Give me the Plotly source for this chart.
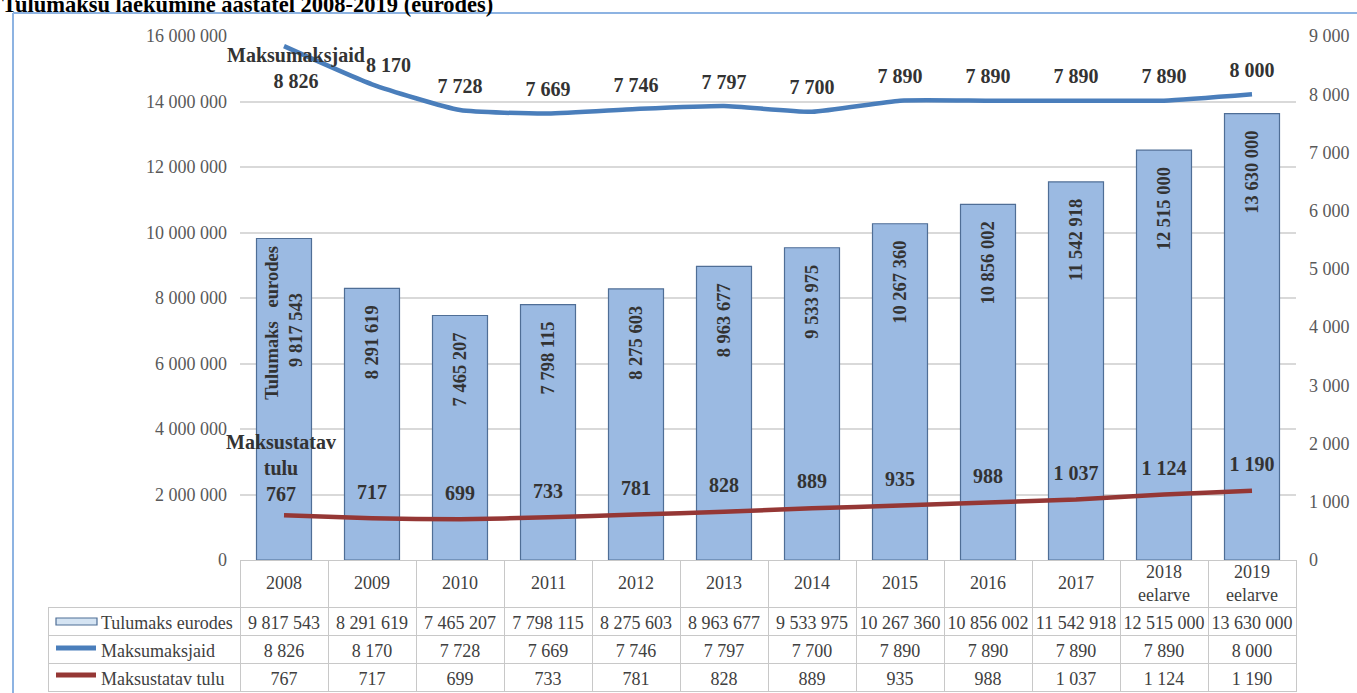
import plotly.graph_objects as go

W, H = 1357, 693

years = ["2008", "2009", "2010", "2011", "2012", "2013", "2014", "2015", "2016", "2017", "2018 eelarve", "2019 eelarve"]
year_labels = ["2008", "2009", "2010", "2011", "2012", "2013", "2014", "2015", "2016", "2017", "2018<br>eelarve", "2019<br>eelarve"]
tulumaks = [9817543, 8291619, 7465207, 7798115, 8275603, 8963677, 9533975, 10267360, 10856002, 11542918, 12515000, 13630000]
maksumaksjaid = [8826, 8170, 7728, 7669, 7746, 7797, 7700, 7890, 7890, 7890, 7890, 8000]
maksustatav_tulu = [767, 717, 699, 733, 781, 828, 889, 935, 988, 1037, 1124, 1190]

series_names = ["Tulumaks eurodes", "Maksumaksjaid", "Maksustatav tulu"]
title = "Tulumaksu laekumine aastatel 2008-2019 (eurodes)"

FONT = "Liberation Serif"
BAR_FILL = "#9BBAE2"
BAR_LINE = "#4F6E96"
BLUE = "#4A7EBB"
RED = "#953735"
TXT = "#333333"
GRAY = "#595959"
TBL = "#404040"
GRID_C = "#C8C8C8"
CLEAR = "rgba(0,0,0,0)"

NB = "\u00a0"


def fmt(v, sep=" "):
    return f"{v:,}".replace(",", sep)


def px_x(p):
    return p / W


def px_y(p):
    return 1 - p / H


bar_text = [fmt(v) + NB * 3 for v in tulumaks]
bar_text[0] = "Tulumaks" + NB * 3 + "eurodes" + NB + "<br>" + fmt(tulumaks[0]) + NB * 4

mm_text = [fmt(v) for v in maksumaksjaid]
mm_text[0] = ""
mm_text[1] = ""
mm_size = [2] + [18] * (len(years) - 1)

mt_text = [fmt(v) for v in maksustatav_tulu]
mt_text[0] = ""

LBL_FONT = dict(family=FONT, size=20, color=TXT, weight="bold")

fig = go.Figure()

fig.add_trace(go.Bar(
    x=years, y=tulumaks, name=series_names[0],
    marker=dict(color=BAR_FILL, line=dict(color=BAR_LINE, width=1.2)),
    text=bar_text, textposition="inside", insidetextanchor="end", textangle=-90,
    textfont=dict(family=FONT, size=18.5, color=TXT, weight="bold"),
    constraintext="none", cliponaxis=False, hoverinfo="skip",
    xaxis="x", yaxis="y",
))

fig.add_trace(go.Scatter(
    x=years, y=maksumaksjaid, name=series_names[1], mode="lines+markers+text",
    line=dict(color=BLUE, width=4.5, shape="spline", smoothing=0.5),
    marker=dict(size=mm_size, opacity=0, color=BLUE),
    text=mm_text, textposition="top center", textfont=LBL_FONT,
    cliponaxis=False, xaxis="x", yaxis="y2",
))

fig.add_trace(go.Scatter(
    x=years, y=maksustatav_tulu, name=series_names[2], mode="lines+markers+text",
    line=dict(color=RED, width=4.5, shape="spline", smoothing=0.5),
    marker=dict(size=22, opacity=0, color=RED),
    text=mt_text, textposition="top center", textfont=LBL_FONT,
    cliponaxis=False, xaxis="x", yaxis="y2",
))

# data table below the chart
LBL_PAD = NB * 10
header_vals = [[""] for _ in range(len(years) + 1)]
cell_vals = [[LBL_PAD + n.replace(" ", NB) for n in series_names]] + [
    [fmt(t, NB), fmt(m, NB), fmt(r, NB)] for t, m, r in zip(tulumaks, maksumaksjaid, maksustatav_tulu)
]
fig.add_trace(go.Table(
    domain=dict(x=[px_x(48), px_x(1296)], y=[0, px_y(560)]),
    columnwidth=[192] + [88] * len(years),
    header=dict(
        values=header_vals, height=47, align="center",
        fill=dict(color=[CLEAR] + ["white"] * len(years)),
        line=dict(color=[CLEAR] + [GRID_C] * len(years), width=1),
        font=dict(family=FONT, size=18, color=TBL),
    ),
    cells=dict(
        values=cell_vals, height=28, align=["left"] + ["center"] * len(years),
        fill=dict(color="white"),
        line=dict(color=GRID_C, width=1),
        font=dict(family=FONT, size=18, color=TBL),
    ),
))

y_dom = [px_y(560), px_y(36)]

annotations = [dict(
    text="<b>" + title + "</b>", x=0, y=px_y(4.5), xref="paper", yref="paper",
    xanchor="left", yanchor="middle", showarrow=False,
    font=dict(family=FONT, size=22.5, color="#000000"),
)]
for i, yl in enumerate(year_labels):
    annotations.append(dict(
        text=yl, x=i, xref="x", y=px_y(583), yref="paper",
        xanchor="center", yanchor="middle", showarrow=False,
        font=dict(family=FONT, size=18, color=TBL),
    ))
# first-point labels carrying the series names, and the shifted 2009 label
annotations.append(dict(
    text=series_names[1] + "<br>" + fmt(maksumaksjaid[0]), x=0, y=maksumaksjaid[0],
    xref="x", yref="y2", xanchor="center", yanchor="top", yshift=4, xshift=12,
    showarrow=False, font=LBL_FONT,
))
annotations.append(dict(
    text=fmt(maksumaksjaid[1]), x=1, y=maksumaksjaid[1],
    xref="x", yref="y2", xanchor="center", yanchor="bottom", yshift=6, xshift=16,
    showarrow=False, font=LBL_FONT,
))
annotations.append(dict(
    text="Maksustatav<br>tulu<br>" + fmt(maksustatav_tulu[0]), x=0, y=maksustatav_tulu[0],
    xref="x", yref="y2", xanchor="center", yanchor="bottom", yshift=8, xshift=-3,
    showarrow=False, font=LBL_FONT,
))

shapes = [
    dict(type="line", xref="paper", yref="paper",
         x0=px_x(13), x1=1, y0=px_y(13), y1=px_y(13),
         line=dict(color="#8DB3E2", width=2)),
    dict(type="line", xref="paper", yref="paper",
         x0=px_x(13), x1=px_x(13), y0=px_y(13), y1=0,
         line=dict(color="#8DB3E2", width=2)),
    dict(type="rect", xref="paper", yref="paper",
         x0=px_x(56), x1=px_x(97), y0=px_y(625), y1=px_y(618),
         line=dict(color="#4F6E96", width=1.2), fillcolor="#D5E4F3"),
    dict(type="line", xref="paper", yref="paper",
         x0=px_x(56), x1=px_x(96), y0=px_y(648), y1=px_y(648),
         line=dict(color=BLUE, width=5)),
    dict(type="line", xref="paper", yref="paper",
         x0=px_x(56), x1=px_x(96), y0=px_y(675), y1=px_y(675),
         line=dict(color=RED, width=5)),
]

fig.update_layout(
    width=W, height=H,
    margin=dict(l=0, r=0, t=0, b=0),
    paper_bgcolor="white", plot_bgcolor="white",
    showlegend=False,
    separators=", ",
    bargap=0.375,
    font=dict(family=FONT, color=GRAY),
    xaxis=dict(
        domain=[px_x(240), px_x(1296)], range=[-0.5, 11.5], type="category",
        showticklabels=False, showgrid=False, zeroline=False, showline=False, ticks="",
    ),
    yaxis=dict(
        domain=y_dom, range=[0, 16000000], dtick=2000000, tickformat=",d",
        showgrid=True, gridcolor="#D9D9D9", gridwidth=1.5, zeroline=False, showline=False,
        tickfont=dict(family=FONT, size=18, color=GRAY), ticklabelstandoff=12,
        automargin=False,
    ),
    yaxis2=dict(
        domain=y_dom, range=[0, 9000], dtick=1000, tickformat=",d", overlaying="y", side="right",
        anchor="x", showgrid=False, zeroline=False, showline=False,
        tickfont=dict(family=FONT, size=18, color=GRAY), ticklabelstandoff=12,
        automargin=False,
    ),
    annotations=annotations,
    shapes=shapes,
)

fig.write_html("out.html", config={"displayModeBar": False},
               post_script="document.body.style.margin='0';")
